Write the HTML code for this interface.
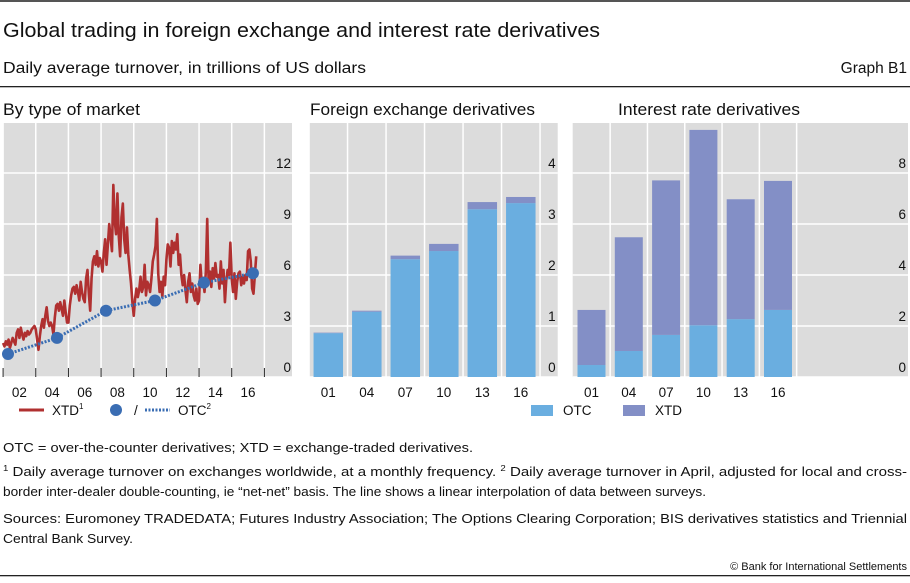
<!DOCTYPE html>
<html><head><meta charset="utf-8"><style>
html,body{margin:0;padding:0;background:#fff;}
svg{display:block;font-family:"Liberation Sans",sans-serif;}
</style></head><body>
<svg id="chart" width="910" height="583" viewBox="0 0 910 583">
<rect x="0" y="0" width="910" height="2" fill="#555"/>
<text x="3" y="37" font-size="20" textLength="597" lengthAdjust="spacingAndGlyphs" fill="#111">Global trading in foreign exchange and interest rate derivatives</text>
<text x="3" y="73" font-size="15.5" textLength="363" lengthAdjust="spacingAndGlyphs" fill="#111">Daily average turnover, in trillions of US dollars</text>
<text x="907" y="73" font-size="15.5" text-anchor="end" fill="#111">Graph B1</text>
<rect x="0" y="86" width="910" height="1.3" fill="#222"/>
<text x="3" y="115" font-size="17" textLength="137" lengthAdjust="spacingAndGlyphs" fill="#111">By type of market</text>
<text x="310" y="115" font-size="17" textLength="225" lengthAdjust="spacingAndGlyphs" fill="#111">Foreign exchange derivatives</text>
<text x="618" y="115" font-size="17" textLength="182" lengthAdjust="spacingAndGlyphs" fill="#111">Interest rate derivatives</text>
<g id="p1"></g><g id="p2"></g><g id="p3"></g>
<g>
<line x1="19" y1="410" x2="44" y2="410" stroke="#b03030" stroke-width="3"/>
<text x="52" y="415" font-size="13.5" fill="#111">XTD<tspan font-size="8" dy="-6">1</tspan></text>
<circle cx="116" cy="410" r="6" fill="#3a6db3"/>
<text x="134" y="415" font-size="13.5" fill="#111">/</text>
<line x1="145" y1="410" x2="170" y2="410" stroke="#3a6db3" stroke-width="3" stroke-dasharray="2,1.5"/>
<text x="178" y="415" font-size="13.5" fill="#111">OTC<tspan font-size="8" dy="-6">2</tspan></text>
</g>
<g>
<rect x="531" y="405" width="22" height="11" fill="#6aaee0"/>
<text x="563" y="415" font-size="13.5" fill="#111">OTC</text>
<rect x="623" y="405" width="22" height="11" fill="#838fc6"/>
<text x="655" y="415" font-size="13.5" fill="#111">XTD</text>
</g>
<g font-size="12.5" fill="#111">
<text x="3" y="452" textLength="470" lengthAdjust="spacingAndGlyphs">OTC = over-the-counter derivatives; XTD = exchange-traded derivatives.</text>
<text x="3" y="476" textLength="904" lengthAdjust="spacingAndGlyphs"><tspan font-size="8" dy="-5">1</tspan><tspan dy="5">  Daily average turnover on exchanges worldwide, at a monthly frequency.    </tspan><tspan font-size="8" dy="-5">2</tspan><tspan dy="5">  Daily average turnover in April, adjusted for local and cross-</tspan></text>
<text x="3" y="496" textLength="703" lengthAdjust="spacingAndGlyphs">border inter-dealer double-counting, ie “net-net” basis. The line shows a linear interpolation of data between surveys.</text>
<text x="3" y="523" textLength="904" lengthAdjust="spacingAndGlyphs">Sources: Euromoney TRADEDATA; Futures Industry Association; The Options Clearing Corporation; BIS derivatives statistics and Triennial</text>
<text x="3" y="543" textLength="130" lengthAdjust="spacingAndGlyphs">Central Bank Survey.</text>
<text x="907" y="570" font-size="11" text-anchor="end">© Bank for International Settlements</text>
</g>
<rect x="0" y="575" width="910" height="1.3" fill="#222"/>
</svg>
<script>
const xtdStartYear = 2001;
const xtdMonthly = [
2.0,1.8,2.1,1.9,2.2,1.7,2.0,2.3,2.1,1.9,2.6,2.8,
2.3,2.9,2.5,2.2,2.6,2.4,2.7,2.5,2.6,2.8,2.9,3.0,
2.8,2.2,1.6,2.4,3.0,3.4,2.9,3.6,4.1,3.3,3.0,3.2,
3.0,2.5,3.5,4.2,4.3,3.9,4.4,4.0,3.6,4.5,3.8,3.2,
3.2,4.2,4.8,5.2,5.3,4.9,5.4,5.0,4.5,5.6,5.0,4.6,
4.4,5.8,6.3,4.9,3.9,5.8,6.8,7.1,6.6,7.4,6.5,7.0,
6.8,6.2,7.3,8.1,6.6,7.8,9.0,8.2,7.4,11.3,9.2,8.4,
10.8,8.3,7.1,9.4,10.2,8.1,7.3,8.8,7.2,6.3,5.5,4.4,
3.6,4.6,5.2,4.7,5.1,5.9,5.0,5.3,6.6,4.8,5.6,5.4,
5.0,5.8,6.8,7.2,7.7,9.3,6.1,5.0,5.6,4.7,5.9,5.4,
6.9,7.8,7.6,6.5,8.0,7.3,7.9,7.5,8.4,6.6,7.2,6.0,
5.4,6.0,5.1,4.4,5.6,6.1,5.0,5.5,4.8,4.5,5.2,4.3,
4.5,6.6,5.5,5.8,5.0,6.2,9.3,5.6,6.2,5.3,6.4,5.8,
6.7,5.9,6.0,5.2,6.8,5.5,6.3,4.4,5.7,6.3,6.0,7.9,
5.8,5.0,6.1,4.6,5.6,6.1,6.2,5.4,5.9,5.5,6.0,5.7,
7.4,7.5,6.8,5.2,4.9,6.0,7.1];
const otcYears = [2001.3,2004.3,2007.3,2010.3,2013.3,2016.3];
const otcValues = [1.35,2.3,3.9,4.5,5.55,6.1];
const p1YTicks = [0,3,6,9,12];
const p1XLabels = ["02","04","06","08","10","12","14","16"];
const p1XLabelYears = [2002,2004,2006,2008,2010,2012,2014,2016];
const p1TickYears = [2001,2003,2005,2007,2009,2011,2013,2015,2017];
const surveyLabels = ["01","04","07","10","13","16"];
const fxOtc = [0.86,1.28,2.31,2.47,3.29,3.41];
const fxXtd = [0.01,0.02,0.07,0.14,0.14,0.12];
const fxYTicks = [0,1,2,3,4];
const irOtc = [0.47,1.02,1.65,2.03,2.27,2.63];
const irXtd = [2.16,4.46,6.06,7.66,4.70,5.06];
const irYTicks = [0,2,4,6,8];

const NS="http://www.w3.org/2000/svg";
function mk(parent,tag,attrs){const e=document.createElementNS(NS,tag);for(const k in attrs)e.setAttribute(k,attrs[k]);parent.appendChild(e);return e;}
const BG="#dcdcdc", OTC="#6aaee0", XTD="#838fc6";
const plotTop=123, plotBot=377;

(function(){
 const g=document.getElementById('p1');
 const L=3,R=292;
 const x=yr=>3.1+(yr-2001)*16.33;
 const y=v=>plotBot-v*17;
 const bg=mk(g,'rect',{x:L,y:plotTop,width:R-L,height:plotBot-plotTop,fill:BG});
 
 
 p1YTicks.forEach(t=>{
  const ln=mk(g,'line',{x1:L,x2:R,y1:y(t),y2:y(t),stroke:'#fff','stroke-width':1.5});
  
  
  const tx=mk(g,'text',{x:291,y:y(t)-5,'font-size':13.5,'text-anchor':'end',fill:'#111'});
  tx.textContent=t;
  
  
 });
 p1TickYears.forEach(yr=>{
  if(x(yr)>R)return;
  const ln=mk(g,'line',{x1:x(yr),x2:x(yr),y1:plotTop,y2:plotBot,stroke:'#fff','stroke-width':1.5});
  
  
  const tk=mk(g,'line',{x1:x(yr),x2:x(yr),y1:368,y2:plotBot,stroke:'#222','stroke-width':1});
  
  
 });
 p1XLabels.forEach((lab,i)=>{
  const tx=mk(g,'text',{x:x(p1XLabelYears[i]),y:397,'font-size':13.5,'text-anchor':'middle',fill:'#111'});
  tx.textContent=lab;
  
  
 });
 const pts=xtdMonthly.map((v,i)=>x(xtdStartYear+i/12).toFixed(2)+','+y(v).toFixed(2)).join(' ');
 const xl=mk(g,'polyline',{points:pts,fill:'none',stroke:'#b03030','stroke-width':2.6,'stroke-linejoin':'round'});
 
 
 const op=otcYears.map((yr,i)=>x(yr)+','+y(otcValues[i])).join(' ');
 const ol=mk(g,'polyline',{points:op,fill:'none',stroke:'#3a6db3','stroke-width':3,'stroke-dasharray':'2,1.5'});
 
 
 otcYears.forEach((yr,i)=>{
  const c=mk(g,'circle',{cx:x(yr),cy:y(otcValues[i]),r:6,fill:'#3a6db3'});
  
  
 });
})();

function barPanel(id,L,R,firstCenter,step,barW,unitPx,yTicks,gridXs,otc,xtd,name){
 const g=document.getElementById(id);
 const y=v=>plotBot-v*unitPx;
 const x=i=>firstCenter+i*step;
 const bg=mk(g,'rect',{x:L,y:plotTop,width:R-L,height:plotBot-plotTop,fill:BG});
 
 
 yTicks.forEach(t=>{
  const ln=mk(g,'line',{x1:L,x2:R,y1:y(t),y2:y(t),stroke:'#fff','stroke-width':1.5});
  
  
 });
 gridXs.forEach(i=>{
  const gx=x(i)+step/2;
  const ln=mk(g,'line',{x1:gx,x2:gx,y1:plotTop,y2:plotBot,stroke:'#fff','stroke-width':1.5});
  
  
 });
 yTicks.forEach(t=>{
  const tx=mk(g,'text',{x:R-2,y:y(t)-5,'font-size':13.5,'text-anchor':'end',fill:'#111'});
  tx.textContent=t;
  
  
 });
 surveyLabels.forEach((lab,i)=>{
  const b1=mk(g,'rect',{x:x(i)-barW/2,y:y(otc[i]),width:barW,height:otc[i]*unitPx,fill:OTC});
  
  
  const b2=mk(g,'rect',{x:x(i)-barW/2,y:y(otc[i]+xtd[i]),width:barW,height:xtd[i]*unitPx,fill:XTD});
  
  
  const tx=mk(g,'text',{x:x(i),y:397,'font-size':13.5,'text-anchor':'middle',fill:'#111'});
  tx.textContent=lab;
  
  
 });
}
barPanel('p2',309.3,557.7,328.3,38.5,29.5,51,fxYTicks,[-1,0,1,2,3,4,5],fxOtc,fxXtd,'fx');
barPanel('p3',572.7,908,591.5,37.3,28,25.5,irYTicks,[0,1,2,3,4,5],irOtc,irXtd,'ir');
</script>
</body></html>
